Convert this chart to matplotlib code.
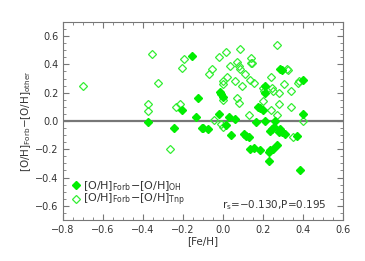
import numpy as np
import matplotlib
matplotlib.use("Agg")
import matplotlib.pyplot as plt
from matplotlib.ticker import MultipleLocator

plt.rcParams.update({"font.family": "DejaVu Sans", "font.size": 7.5,
                     "mathtext.default": "regular"})

# [O/H]_Forb - [O/H]_OH  (filled)
oh_feh = [-0.377, -0.157, -0.207, -0.125, -0.135, -0.247, -0.107, -0.078, -0.100,
          -0.023, -0.015, -0.010, -0.003, 0.013, 0.027, 0.057, 0.038, 0.105, 0.115,
          0.127, 0.135, 0.152, 0.185, 0.173, 0.185, 0.198, 0.207, 0.207, 0.207,
          0.165, 0.257, 0.227, 0.235, 0.248, 0.268, 0.227, 0.235, 0.243, 0.252,
          0.277, 0.285, 0.293, 0.307, 0.285, 0.293, 0.400, 0.400, 0.370, 0.385, 0.285]
oh_dif = [-0.010, 0.460, 0.075, 0.165, 0.030, -0.050, -0.050, -0.055, -0.048,
          0.047, 0.205, 0.193, 0.170, -0.030, 0.030, 0.015, -0.096, -0.094, -0.108,
          -0.115, -0.200, -0.190, -0.207, 0.100, 0.094, 0.080, 0.250, 0.195, 0.000,
          -0.010, 0.000, -0.220, -0.207, -0.195, -0.167, -0.285, -0.070, -0.054, -0.042,
          -0.078, -0.070, -0.078, -0.089, 0.365, 0.360, 0.290, 0.050, -0.108, -0.343, -0.060]

# [O/H]_Forb - [O/H]_Trip  (open)
tnp_feh = [-0.700, -0.357, -0.327, -0.377, -0.377, -0.237, -0.215, -0.207, -0.197,
           -0.073, -0.057, -0.023, 0.013, 0.085, -0.003, 0.000, 0.020, 0.035, 0.068,
           0.077, 0.057, 0.085, 0.107, 0.093, 0.000, 0.070, 0.080, 0.137, 0.137,
           0.145, 0.135, 0.155, 0.127, 0.197, 0.205, 0.200, 0.240, 0.237, 0.245,
           0.248, 0.267, 0.267, 0.278, 0.278, 0.305, 0.317, 0.325, 0.337, 0.337,
           0.374, 0.380, 0.400, -0.047, -0.012, -0.003, 0.350, -0.265]
tnp_dif = [0.250, 0.476, 0.270, 0.120, 0.070, 0.100, 0.120, 0.374, 0.440,
           0.330, 0.365, 0.450, 0.490, 0.510, 0.280, 0.260, 0.310, 0.390, 0.416,
           0.390, 0.280, 0.370, 0.330, 0.250, 0.150, 0.160, 0.130, 0.445, 0.410,
           0.410, 0.290, 0.270, 0.040, 0.230, 0.215, 0.140, 0.310, 0.075, 0.230,
           0.215, 0.540, 0.045, 0.200, 0.120, 0.260, 0.370, 0.360, 0.100, 0.210,
           0.270, 0.285, 0.000, 0.010, -0.020, -0.040, -0.110, -0.200]

stat_text = r"r$_s$=$-$0.130,P=0.195"

fig = plt.figure(figsize=(3.65, 2.61), dpi=100)
ax = fig.add_axes([0.173, 0.157, 0.767, 0.759])

ax.axhline(0.0, color="#777777", lw=1.6, zorder=1)
ax.plot(oh_feh, oh_dif, "D", color="#00ee00", ms=4.0, mec="#00ee00", ls="none",
        label=r"[O/H]$_{Forb}$$-$[O/H]$_{OH}$", zorder=3)
ax.plot(tnp_feh, tnp_dif, "D", mfc="none", mec="#33ee33", mew=0.9, ms=3.8, ls="none",
        label=r"[O/H]$_{Forb}$$-$[O/H]$_{Tnp}$", zorder=2)

ax.set_xlim(-0.8, 0.6)
ax.set_ylim(-0.7, 0.7)
ax.xaxis.set_major_locator(MultipleLocator(0.2))
ax.xaxis.set_minor_locator(MultipleLocator(0.05))
ax.yaxis.set_major_locator(MultipleLocator(0.2))
ax.yaxis.set_minor_locator(MultipleLocator(0.05))
ax.tick_params(which="both", direction="in", top=True, right=True, color="#777777",
               labelsize=7, labelcolor="#333333")
ax.tick_params(which="major", length=4)
ax.tick_params(which="minor", length=2)
ax.set_xticklabels([f"{v:.1f}".replace("-", "\u2212") for v in ax.get_xticks()])
ax.set_yticklabels([f"{v:.1f}".replace("-", "\u2212") for v in ax.get_yticks()])
for s in ax.spines.values():
    s.set_color("#777777")

ax.set_xlabel("[Fe/H]", labelpad=1, color="#333333")
ax.set_ylabel(r"[O/H]$_{Forb}$$-$[O/H]$_{other}$", labelpad=1, color="#333333")

ax.legend(loc="lower left", frameon=False, fontsize=8, handletextpad=0.1,
          borderaxespad=0.3, labelspacing=-0.1, handlelength=1.0,
          bbox_to_anchor=(0.0, 0.02), labelcolor="#333333")
ax.text(0.94, 0.075, stat_text, transform=ax.transAxes, ha="right", va="center",
        fontsize=7.5, color="#333333")

fig.savefig("out.png", dpi=100)
